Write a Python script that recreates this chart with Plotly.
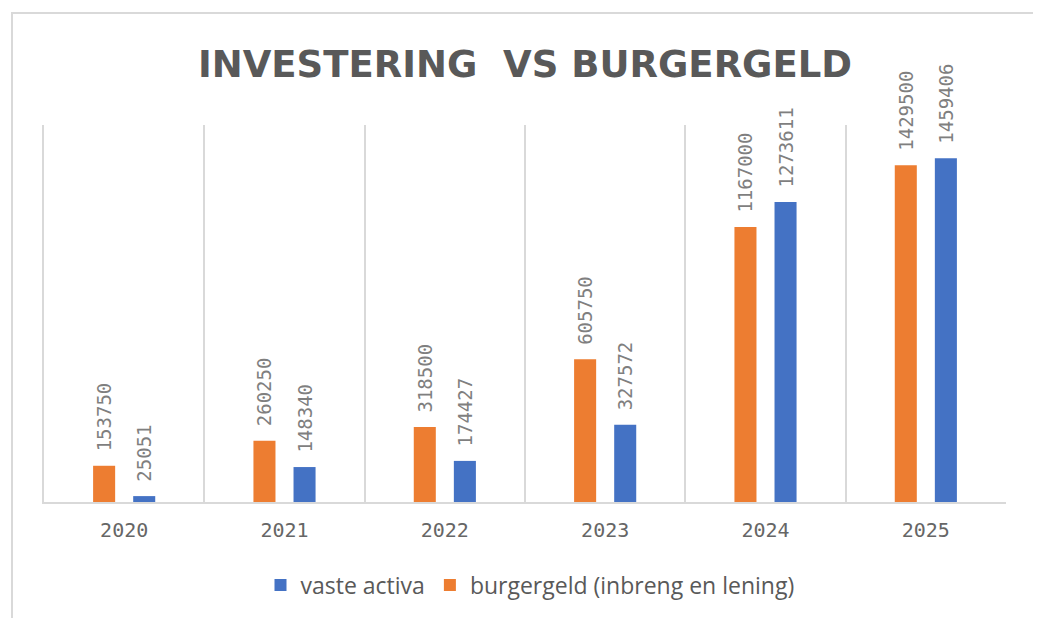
import plotly.graph_objects as go

years = ["2020", "2021", "2022", "2023", "2024", "2025"]
burgergeld = [153750, 260250, 318500, 605750, 1167000, 1429500]
vaste_activa = [25051, 148340, 174427, 327572, 1273611, 1459406]

title_text = "INVESTERING  VS BURGERGELD"
name_burger = "burgergeld (inbreng en lening)"
name_vaste = "vaste activa"

ORANGE = "#ED7D31"
BLUE = "#4472C4"
GRID = "#d9d9d9"
DARK = "#595959"
LABEL = "#7f7f7f"

label_font = dict(family="DejaVu Sans Mono", size=19, color=LABEL)

# figure is drawn at an 8px page offset; layout numbers are in figure coords
L, R_EDGE, T, B_EDGE = 36, 998, 117, 494
W, H = 1041, 618
PW, PH = R_EDGE - L, B_EDGE - T

fig = go.Figure()
fig.add_trace(go.Bar(
    x=years, y=burgergeld, name=name_burger,
    marker=dict(color=ORANGE, line=dict(width=0)),
    text=["\u00a0" + str(v) for v in burgergeld], textposition="outside",
    textangle=-90, textfont=label_font, constraintext="none",
    cliponaxis=False,
))
fig.add_trace(go.Bar(
    x=years, y=vaste_activa, name=name_vaste,
    marker=dict(color=BLUE, line=dict(width=0)),
    text=["\u00a0" + str(v) for v in vaste_activa], textposition="outside",
    textangle=-90, textfont=label_font, constraintext="none",
    cliponaxis=False,
))

fig.update_layout(
    width=W, height=H,
    margin=dict(l=L, r=W - R_EDGE, t=T, b=H - B_EDGE),
    paper_bgcolor="white", plot_bgcolor="white",
    barmode="group", bargap=0.5, bargroupgap=0.45,
    showlegend=True,
    title=dict(
        text=title_text, x=0.5, xref="paper", xanchor="center",
        y=1 - 56 / H, yref="container", yanchor="middle",
        font=dict(family="DejaVu Sans", size=37, color=DARK, weight="bold"),
    ),
    legend=dict(
        orientation="h", x=(522 - L) / PW, xanchor="center", xref="paper",
        y=1 - 577 / H, yref="container", yanchor="middle",
        traceorder="reversed",
        font=dict(family="Open Sans", size=23, color=DARK),
        itemwidth=30,
    ),
    xaxis=dict(
        type="category", tickson="boundaries",
        showgrid=True, gridcolor=GRID, gridwidth=2,
        showline=True, linecolor=GRID, linewidth=2,
        ticks="", ticklabelstandoff=9,
        tickfont=dict(family="DejaVu Sans Mono", size=20, color="#666666"),
        zeroline=False,
    ),
    yaxis=dict(
        range=[0, 1600000], visible=True, showticklabels=False, ticks="",
        showgrid=False, zeroline=False,
        showline=True, linecolor=GRID, linewidth=2,
    ),
    shapes=[dict(
        type="rect", xref="paper", yref="paper",
        x0=(4 - L) / PW, x1=(1029 - L) / PW,
        y0=(B_EDGE - 640) / PH, y1=(B_EDGE - 5) / PH,
        line=dict(color=GRID, width=2), fillcolor="rgba(0,0,0,0)", layer="below",
    )],
)

fig.write_html("out.html")
